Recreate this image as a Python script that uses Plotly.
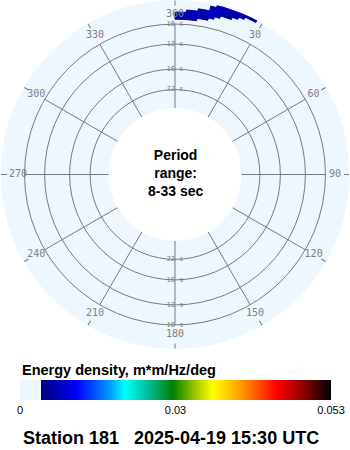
import plotly.graph_objects as go

# ---------------- data ----------------
directions = [1, 3, 5, 7, 9, 11, 13, 15, 17, 19, 21, 23, 25, 27]   # bin centres, deg
dir_width = 2
freq_lo = [0.104, 0.106, 0.108, 0.110, 0.112, 0.114, 0.116, 0.118]  # Hz, bin lower edge
freq_step = 0.002
energy = [  # rows: freq bins (low -> high), cols: directions
    [.005, .005, .005, .005, 0, 0, 0, 0, 0, 0, 0, 0, 0, 0],
    [.006, .006, .006, .006, .006, .005, 0, 0, 0, 0, 0, 0, 0, 0],
    [.005, .006, .006, .006, .006, .006, .006, 0, 0, 0, 0, 0, 0, 0],
    [0, 0, .005, .006, .006, .006, .007, .005, 0, 0, 0, 0, 0, 0],
    [0, 0, 0, 0, .005, .006, .007, .006, .005, .005, 0, 0, 0, 0],
    [0, 0, 0, 0, 0, 0, .006, .007, .006, .006, .005, 0, 0, 0],
    [0, 0, 0, 0, 0, 0, .005, .007, .006, .006, .006, .005, 0, 0],
    [0, 0, 0, 0, 0, 0, 0, .006, .006, .006, .006, .005, .005, .0045],
]
e_max = 0.053
period_ticks = [10, 12, 16, 22]          # s
f_min, f_max = 0.03, 0.12                # radial range (Hz)
ang_ticks = [0, 30, 60, 90, 120, 150, 180, 210, 240, 270, 300, 330]
ang_labels = ['360', '30', '60', '90', '120', '150', '180', '210', '240', '-270', '300', '330']
cb_tickvals = [0, 0.0265, 0.053]
cb_ticktext = ['0', '0.03', '0.053']

BG = '#eef6fe'
GRID = '#7a7a7a'
colorscale = [
    [0.0, BG], [0.0675, BG], [0.0676, '#00007f'], [0.183, '#0000ff'],
    [0.289, '#0099ff'], [0.338, '#00ffff'], [0.418, '#00b890'],
    [0.492, '#008000'], [0.556, '#90c000'], [0.62, '#ffff00'],
    [0.707, '#ffa000'], [0.826, '#ff0000'], [0.9, '#a00000'], [1.0, '#000000'],
]

# flatten the spectrum cells
th, base, rr, val = [], [], [], []
for i, flo in enumerate(freq_lo):
    for j, d in enumerate(directions):
        v = energy[i][j]
        if v > 0:
            th.append(d)
            base.append(flo)
            rr.append(freq_step)
            val.append(v)

fig = go.Figure()
fig.add_trace(go.Barpolar(
    theta=th, r=rr, base=base, width=dir_width,
    marker=dict(
        color=val, colorscale=colorscale, cmin=0, cmax=e_max,
        line=dict(width=1, color=val, colorscale=colorscale, cmin=0, cmax=e_max),
        showscale=True,
        colorbar=dict(
            orientation='h', x=20 / 350, xanchor='left',
            y=(450 - 380) / 450, yanchor='top',
            len=311, lenmode='pixels', thickness=20, thicknessmode='pixels',
            xpad=0, ypad=0, outlinewidth=0, ticks='',
            tickvals=cb_tickvals, ticktext=cb_ticktext,
            tickfont=dict(family='Liberation Sans, Arial', size=11, color='#000'),
        ),
    ),
    hoverinfo='skip',
))

# spokes from inner edge to the 10 s circle
sp_r, sp_t = [], []
for a in ang_ticks:
    sp_r += [f_min, 1 / period_ticks[0], None]
    sp_t += [a, a, None]
fig.add_trace(go.Scatterpolar(r=sp_r, theta=sp_t, mode='lines',
                              line=dict(color=GRID, width=1), hoverinfo='skip'))

# angular labels inside the disk
lab_r = 0.108
fig.add_trace(go.Scatterpolar(
    r=[lab_r] * len(ang_ticks), theta=ang_ticks, mode='text', text=ang_labels,
    textfont=dict(family='DejaVu Sans Mono', size=10, color='#808080'),
    hoverinfo='skip'))

# period labels along 0 and 180 deg
for a in (0, 180):
    fig.add_trace(go.Scatterpolar(
        r=[1 / p for p in period_ticks], theta=[a] * len(period_ticks), mode='text',
        text=[f'{p} s' for p in period_ticks],
        textfont=dict(family='DejaVu Sans Mono', size=7, color='#808080'),
        hoverinfo='skip'))

fig.update_layout(
    width=350, height=450, margin=dict(l=0, r=0, t=0, b=0),
    paper_bgcolor='white', plot_bgcolor='white', showlegend=False,
    polar=dict(
        domain=dict(x=[0, 1], y=[(450 - 349) / 450, 1]),
        bgcolor=BG, hole=0.38,
        radialaxis=dict(range=[f_min, f_max], tickvals=[1 / p for p in period_ticks],
                        showticklabels=False, ticks='', showline=False,
                        showgrid=True, gridcolor=GRID, gridwidth=1),
        angularaxis=dict(rotation=90, direction='clockwise', tickmode='array',
                         tickvals=ang_ticks, showticklabels=False, ticks='inside',
                         ticklen=5, tickcolor=GRID, showgrid=False, showline=False),
    ),
    annotations=[
        dict(text='<b>Period<br>range:<br>8-33 sec</b>', x=175 / 350, y=(450 - 172.5) / 450,
             xref='paper', yref='paper', showarrow=False,
             font=dict(family='Liberation Sans, Arial', size=14, color='#000')),
        dict(text='<b>Energy density, m*m/Hz/deg</b>', x=20 / 350, y=(450 - 370) / 450,
             xref='paper', yref='paper', xanchor='left', yanchor='middle', showarrow=False,
             font=dict(family='Liberation Sans, Arial', size=14.5, color='#000')),
        dict(text='<b>Station 181&nbsp;&nbsp; 2025-04-19 15:30 UTC</b>',
             x=21 / 350, y=(450 - 438) / 450, xref='paper', yref='paper',
             xanchor='left', yanchor='middle', showarrow=False,
             font=dict(family='Liberation Sans, Arial', size=18, color='#000')),
    ],
)

fig.write_html('out.html')
